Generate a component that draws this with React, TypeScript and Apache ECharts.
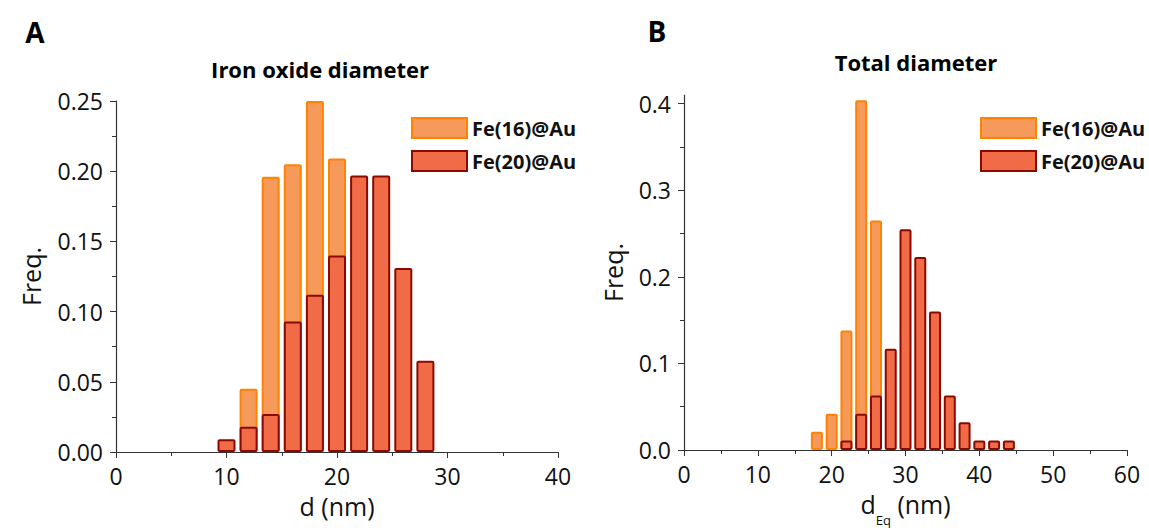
import React, { useEffect, useRef } from "react";
import * as echarts from "echarts";

// ---- data ----
const leftBins = [10, 12, 14, 16, 18, 20, 22, 24, 26, 28];
const leftFe16 = [0, 0.045, 0.196, 0.205, 0.25, 0.209, 0, 0, 0, 0];
const leftFe20 = [0.009, 0.018, 0.027, 0.093, 0.112, 0.14, 0.197, 0.197, 0.131, 0.065];

const rightBins = [18, 20, 22, 24, 26, 28, 30, 32, 34, 36, 38, 40, 42, 44];
const rightFe16 = [0.021, 0.042, 0.138, 0.404, 0.265, 0, 0, 0, 0, 0, 0, 0, 0, 0];
const rightFe20 = [0, 0, 0.011, 0.042, 0.063, 0.117, 0.255, 0.223, 0.16, 0.063, 0.032, 0.011, 0.011, 0.011];

const seriesNames = ["Fe(16)@Au", "Fe(20)@Au"];
const leftYTicks = [0, 0.05, 0.1, 0.15, 0.2, 0.25];
const rightYTicks = [0, 0.1, 0.2, 0.3, 0.4];
const rightYMinor = [0.05, 0.15, 0.25, 0.35];

const FONT = "'Open Sans', 'Noto Sans', sans-serif";
const C16 = { fill: "#F59A5B", border: "#FF8200" };
const C20 = { fill: "#F06B46", border: "#8B0A00" };

const pairs = (bins: number[], vals: number[]) =>
  bins.map((b, i) => [b, vals[i]]).filter((p) => p[1] > 0);

export default function App() {
  const ref = useRef<HTMLDivElement>(null);
  useEffect(() => {
    if (!ref.current) return;
    const chart = echarts.init(ref.current, undefined, { renderer: "svg" });
    const axisLine = { show: true, lineStyle: { color: "#333", width: 1.2 } };
    const labelStyle = { color: "#111", fontSize: 23, fontFamily: FONT };
    const nameStyle = { color: "#111", fontSize: 25, fontFamily: FONT };

    const xAxisBase = {
      type: "value",
      axisLine,
      axisTick: { show: true, inside: false, length: 6, lineStyle: { color: "#333" } },
      minorTick: { show: true, splitNumber: 2, length: 4, lineStyle: { color: "#333" } },
      splitLine: { show: false },
      axisLabel: { ...labelStyle, margin: 12 },
      nameLocation: "middle",
      nameGap: 41,
      nameTextStyle: nameStyle,
    };

    const barStyle = (c: { fill: string; border: string }) => ({
      color: c.fill,
      borderColor: c.border,
      borderWidth: 2,
      borderRadius: 1,
    });

    const legendBase = {
      data: seriesNames,
      orient: "vertical",
      top: 112,
      itemWidth: 55,
      itemHeight: 20,
      itemGap: 11,
      icon: "rect",
      textStyle: { fontSize: 20, fontWeight: "bold", fontFamily: FONT, color: "#111" },
      selectedMode: false,
    };

    chart.setOption({
      animation: false,
      textStyle: { fontFamily: FONT },
      grid: [
        { left: 116, right: 591, top: 101, bottom: 79 },
        { left: 684, right: 22, top: 95, bottom: 79 },
      ],
      xAxis: [
        { ...xAxisBase, gridIndex: 0, min: 0, max: 40, interval: 10, name: "d (nm)" },
        {
          ...xAxisBase,
          gridIndex: 1,
          min: 0,
          max: 60,
          interval: 10,
          name: "{a|d}{s|Eq}{a| (nm)}",
          nameTextStyle: {
            ...nameStyle,
            rich: {
              a: { fontSize: 25, fontFamily: FONT, color: "#111", verticalAlign: "top" },
              s: { fontSize: 13, fontFamily: FONT, color: "#111", verticalAlign: "top", padding: [22, 0, 0, 0] },
            },
          },
        },
      ],
      yAxis: [
        {
          type: "value",
          gridIndex: 0,
          position: "left",
          min: 0,
          max: 0.25,
          interval: 0.05,
          axisLine,
          axisTick: { show: true, length: 6, lineStyle: { color: "#333" } },
          minorTick: { show: true, splitNumber: 2, length: 4, lineStyle: { color: "#333" } },
          splitLine: { show: false },
          axisLabel: {
            ...labelStyle,
            margin: 13,
            formatter: (v: number) => v.toFixed(2),
            customValues: leftYTicks,
          },
          name: "Freq.",
          nameLocation: "middle",
          nameGap: 73,
          nameTextStyle: nameStyle,
        },
        {
          type: "value",
          gridIndex: 1,
          position: "left",
          min: 0,
          max: 0.41,
          axisLine,
          axisTick: { show: true, length: 6, lineStyle: { color: "#333" }, customValues: rightYTicks },
          minorTick: { show: false },
          splitLine: { show: false },
          axisLabel: {
            ...labelStyle,
            margin: 13,
            formatter: (v: number) => v.toFixed(1),
            customValues: rightYTicks,
          },
          name: "Freq.",
          nameLocation: "middle",
          nameGap: 59,
          nameTextStyle: nameStyle,
        },
        {
          type: "value",
          gridIndex: 1,
          position: "left",
          offset: 0,
          min: 0,
          max: 0.41,
          axisLine: { show: false },
          axisTick: { show: true, length: 4, lineStyle: { color: "#333" }, customValues: rightYMinor },
          axisLabel: { show: false },
          splitLine: { show: false },
        },
      ],
      legend: [
        { ...legendBase, left: 406 },
        { ...legendBase, left: 975 },
      ],
      graphic: [
        { type: "text", x: 35, y: 32, style: { text: "A", font: `bold 28px ${FONT}`, fill: "#000", textAlign: "center", textVerticalAlign: "middle" } },
        { type: "text", x: 657, y: 31, style: { text: "B", font: `bold 28px ${FONT}`, fill: "#000", textAlign: "center", textVerticalAlign: "middle" } },
        { type: "text", x: 320, y: 69, style: { text: "Iron oxide diameter", font: `bold 22px ${FONT}`, fill: "#000", textAlign: "center", textVerticalAlign: "middle" } },
        { type: "text", x: 916, y: 62, style: { text: "Total diameter", font: `bold 22px ${FONT}`, fill: "#000", textAlign: "center", textVerticalAlign: "middle" } },
      ],
      series: [
        {
          name: seriesNames[0], type: "bar", xAxisIndex: 0, yAxisIndex: 0,
          barWidth: 18, barGap: "-100%", itemStyle: barStyle(C16), data: pairs(leftBins, leftFe16), z: 2,
        },
        {
          name: seriesNames[1], type: "bar", xAxisIndex: 0, yAxisIndex: 0,
          barWidth: 18, barGap: "-100%", itemStyle: barStyle(C20), data: pairs(leftBins, leftFe20), z: 3,
        },
        {
          name: seriesNames[0], type: "bar", xAxisIndex: 1, yAxisIndex: 1,
          barWidth: 12, barGap: "-100%", itemStyle: barStyle(C16), data: pairs(rightBins, rightFe16), z: 2,
        },
        {
          name: seriesNames[1], type: "bar", xAxisIndex: 1, yAxisIndex: 1,
          barWidth: 12, barGap: "-100%", itemStyle: barStyle(C20), data: pairs(rightBins, rightFe20), z: 3,
        },
      ],
    });
    return () => chart.dispose();
  }, []);
  return <div ref={ref} style={{ position: "absolute", left: 0, top: 0, width: 1149, height: 531 }} />;
}
